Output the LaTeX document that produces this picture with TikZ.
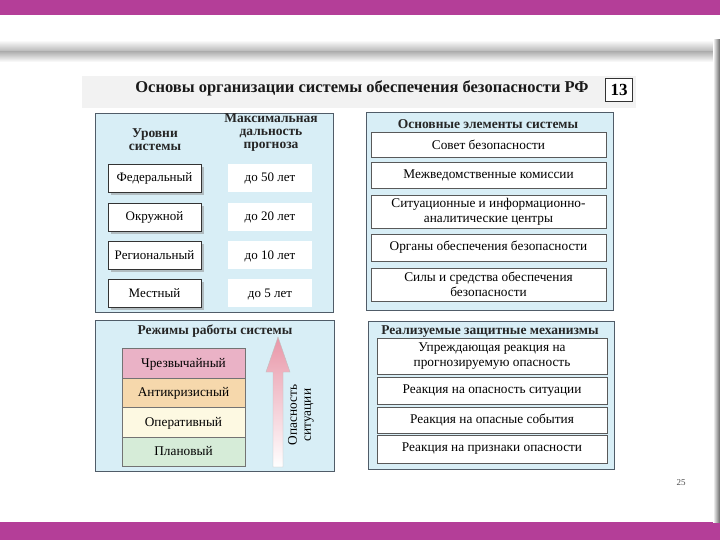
\documentclass[tikz,border=0pt]{standalone}
\usepackage{fontspec}
\setmainfont{Liberation Serif}
\usepackage{tikz}
\usetikzlibrary{shadows}

\definecolor{magband}{RGB}{180,62,152}
\definecolor{panelblue}{RGB}{216,238,246}
\definecolor{panelline}{RGB}{80,92,104}
\definecolor{modered}{RGB}{234,178,198}
\definecolor{modeorange}{RGB}{246,216,172}
\definecolor{modeyellow}{RGB}{253,249,226}
\definecolor{modegreen}{RGB}{214,236,216}
\definecolor{arrowpink}{RGB}{232,150,168}

\begin{document}
\begin{tikzpicture}[x=1pt,y=-1pt,
		panel/.style={draw=panelline,fill=panelblue,line width=0.8pt},
		head/.style={font=\bfseries\fontsize{13.5}{13}\selectfont,align=center,text=black!85},
		levelbox/.style={draw=black!80,fill=white,inner sep=0pt,minimum width=93pt,minimum height=28pt,
			text height=8pt,text depth=0pt,
			font=\fontsize{13}{13}\selectfont,drop shadow={shadow xshift=3pt,shadow yshift=-3pt,fill=black!45}},
		rangebox/.style={fill=white,inner sep=0pt,minimum width=84pt,minimum height=28pt,
			text height=8pt,text depth=0pt,font=\fontsize{13}{13}\selectfont},
		elembox/.style={draw=black!65,fill=white,inner sep=0pt,minimum width=235pt,align=center,
			font=\fontsize{13.3}{14.5}\selectfont},
		mechbox/.style={draw=black!65,fill=white,inner sep=0pt,minimum width=230pt,align=center,
			font=\fontsize{13.3}{14.5}\selectfont},
		modebox/.style={draw=black!55,inner sep=0pt,minimum width=123pt,minimum height=29.5pt,
			text height=8pt,text depth=0pt,font=\fontsize{13.3}{13}\selectfont}]
		\useasboundingbox (0,0) rectangle (720,540);
		% page and scan edges
		\fill[white] (0,0) rectangle (720,540);
		\fill[magband] (0,0) rectangle (720,15);
		\fill[magband] (0,522) rectangle (720,540);
		\shade[top color=white,bottom color=black!30] (0,40) rectangle (720,52);
		\shade[top color=black!30,bottom color=white] (0,52) rectangle (720,62);
		\shade[left color=white,right color=black!60] (713,40) rectangle (720,522);
		% title
		\fill[black!5] (82,76) rectangle (636,108);
		\node[font=\bfseries\fontsize{16.5}{16.5}\selectfont,text=black!90] (title) at (362,88) {Основы организации системы обеспечения безопасности РФ};
		\node[draw=black!80,fill=white,inner sep=0pt,minimum width=27pt,minimum height=23pt,
			font=\bfseries\fontsize{17}{17}\selectfont] (num) at (619,89.5) {13};
		% levels of the system
		\fill[panel] (95,113) rectangle (333,312);
		\node[head] (lvlhead) at (155,140) {Уровни\\системы};
		\node[head] (rnghead) at (271,133) {Максимальная\\дальность\\прогноза};
		\node[levelbox] (fed) at (154.5,178) {Федеральный};
		\node[levelbox] (okr) at (154.5,217) {Окружной};
		\node[levelbox] (reg) at (154.5,255) {Региональный};
		\node[levelbox] (mest) at (154.5,293) {Местный};
		\node[rangebox] (r50) at (270,178) {до 50 лет};
		\node[rangebox] (r20) at (270,217) {до 20 лет};
		\node[rangebox] (r10) at (270,255) {до 10 лет};
		\node[rangebox] (r5) at (270,293) {до 5 лет};
		% main elements
		\fill[panel] (366,112) rectangle (613,310);
		\node[head] (elhead) at (488,124) {Основные элементы системы};
		\node[elembox,minimum height=25pt] (sovet) at (488.5,145) {Совет безопасности};
		\node[elembox,minimum height=26pt] (komis) at (488.5,175.5) {Межведомственные комиссии};
		\node[elembox,minimum height=33pt] (centr) at (488.5,212) {Ситуационные и информационно-\\аналитические центры};
		\node[elembox,minimum height=27pt] (organ) at (488.5,247.5) {Органы обеспечения безопасности};
		\node[elembox,minimum height=33pt] (sily) at (488.5,284.5) {Силы и средства обеспечения\\безопасности};
		% operating modes
		\fill[panel] (95,320) rectangle (334,471);
		\node[head] (modehead) at (215,331) {Режимы работы системы};
		\node[modebox,fill=modered] (chrez) at (183.5,363) {Чрезвычайный};
		\node[modebox,fill=modeorange] (anti) at (183.5,392.5) {Антикризисный};
		\node[modebox,fill=modeyellow] (oper) at (183.5,422) {Оперативный};
		\node[modebox,fill=modegreen] (plan) at (183.5,451.5) {Плановый};
		\shade[top color=arrowpink,bottom color=white,draw=black!25]
			(273,467) -- (273,372) -- (266,372) -- (278,337) -- (290,372) -- (283,372) -- (283,467) -- cycle;
		\node[rotate=90,align=center,font=\fontsize{13.3}{14}\selectfont] (danger) at (301,415) {Опасность\\ситуации};
		% protective mechanisms
		\fill[panel] (368,321) rectangle (614,469);
		\node[head] (mechhead) at (490,332) {Реализуемые защитные механизмы};
		\node[mechbox,minimum height=36pt] (upr) at (492,356) {Упреждающая реакция на\\прогнозируемую опасность};
		\node[mechbox,minimum height=27pt] (sit) at (492,391) {Реакция на опасность ситуации};
		\node[mechbox,minimum height=26pt] (sob) at (492,420) {Реакция на опасные события};
		\node[mechbox,minimum height=28pt] (priz) at (492,449) {Реакция на признаки опасности};
		% page number
		\node[font=\fontsize{9}{9}\selectfont,text=black!70] (page) at (681,483) {25};
	\end{tikzpicture}
\end{document}
